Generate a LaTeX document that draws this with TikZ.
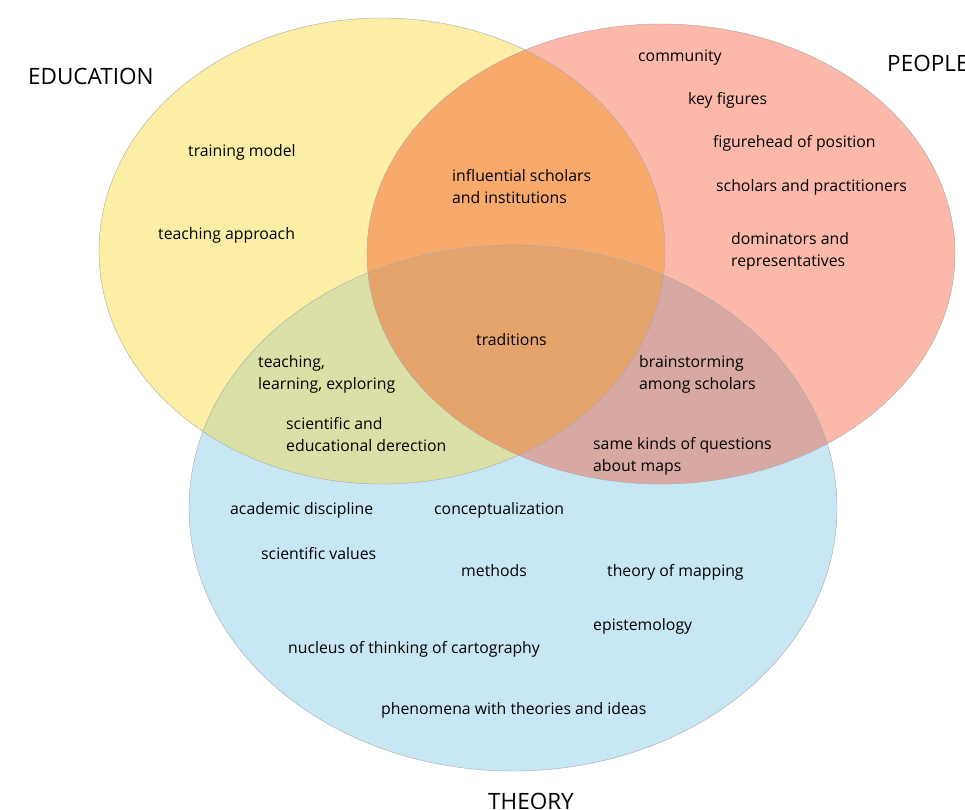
\documentclass[tikz,border=0pt]{standalone}
\usepackage{fontspec}
\setmainfont{Open Sans}
\definecolor{eduyellow}{HTML}{FDEEA6}
\definecolor{peoplepink}{HTML}{FCB8A8}
\definecolor{theoryblue}{HTML}{C8E7F4}
\definecolor{edupeople}{HTML}{F8A96C}
\definecolor{edutheory}{HTML}{DBE1A6}
\definecolor{peopletheory}{HTML}{D8A9A3}
\definecolor{allthree}{HTML}{E5A46C}
\definecolor{rim}{HTML}{A8A8A8}

\begin{document}
\begin{tikzpicture}[x=1pt,y=-1pt,
  lbl/.style={anchor=west,align=left,inner sep=0pt,font=\fontsize{15.8}{22}\selectfont},
  title/.style={anchor=west,inner sep=0pt,font=\fontsize{22.5}{24}\selectfont}]

\useasboundingbox (0,0) rectangle (965,809);

\def\eduset{(382,251) ellipse [x radius=283, y radius=233]}
\def\peopleset{(661,254) ellipse [x radius=294, y radius=230]}
\def\theoryset{(513,508) ellipse [x radius=324, y radius=263]}

% the three sets and their overlaps
\fill [eduyellow] \eduset ;
\fill [peoplepink] \peopleset ;
\begin{scope}
  \clip \eduset ;
  \fill [edupeople] \peopleset ;
\end{scope}
\fill [theoryblue] \theoryset ;
\begin{scope}
  \clip \theoryset ;
  \fill [edutheory] \eduset ;
  \fill [peopletheory] \peopleset ;
  \clip \eduset ;
  \fill [allthree] \peopleset ;
\end{scope}
\draw [rim,thin] \eduset ;
\draw [rim,thin] \peopleset ;
\draw [rim,thin] \theoryset ;

\node [title] (education) at (28,76) {EDUCATION};
\node [title] (people) at (887,63) {PEOPLE};
\node [title] (theory) at (488,801) {THEORY};

\node [lbl] (training) at (188,152) {training model};
\node [lbl] (approach) at (158,235) {teaching approach};
\node [lbl] (influential) at (452,187) {influential scholars\\and institutions};
\node [lbl] (community) at (638,58) {community};
\node [lbl] (keyfig) at (688,100) {key figures};
\node [lbl] (figurehead) at (713,143) {figurehead of position};
\node [lbl] (practitioners) at (716,187) {scholars and practitioners};
\node [lbl] (dominators) at (731,251) {dominators and\\representatives};
\node [lbl] (traditions) at (476,340) {traditions};
\node [lbl] (exploring) at (258,374) {teaching,\\learning, exploring};
\node [lbl] (brainstorm) at (639,374) {brainstorming\\among scholars};
\node [lbl] (direction) at (286,435) {scientific and\\educational derection};
\node [lbl] (questions) at (593,456) {same kinds of questions\\about maps};
\node [lbl] (discipline) at (230,510) {academic discipline};
\node [lbl] (concept) at (434,510) {conceptualization};
\node [lbl] (values) at (261,554) {scientific values};
\node [lbl] (methods) at (461,571) {methods};
\node [lbl] (mapping) at (607,572) {theory of mapping};
\node [lbl] (episteme) at (593,626) {epistemology};
\node [lbl] (nucleus) at (288,649) {nucleus of thinking of cartography};
\node [lbl] (phenomena) at (381,710) {phenomena with theories and ideas};

\end{tikzpicture}
\end{document}
